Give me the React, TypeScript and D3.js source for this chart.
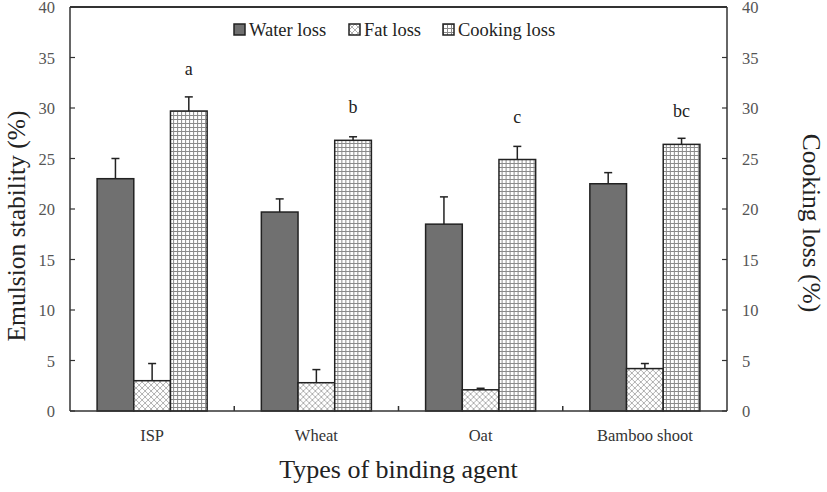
import * as d3 from "d3";

const W = 827;
const H = 492;
const M = { top: 7, right: 100, bottom: 81, left: 70 };

const categories = ["ISP", "Wheat", "Oat", "Bamboo shoot"];
const seriesNames = ["Water loss", "Fat loss", "Cooking loss"];
const waterLoss = [23.0, 19.7, 18.5, 22.5];
const waterErr = [2.0, 1.3, 2.7, 1.1];
const fatLoss = [3.0, 2.8, 2.1, 4.2];
const fatErr = [1.7, 1.3, 0.15, 0.5];
const cookingLoss = [29.7, 26.8, 24.9, 26.4];
const cookingErr = [1.4, 0.35, 1.3, 0.6];
const letters = ["a", "b", "c", "bc"];
const letterPos = [33.3, 29.5, 28.5, 29.1];
const yTicks = [0, 5, 10, 15, 20, 25, 30, 35, 40];

const FONT = "'Liberation Serif', 'Times New Roman', serif";
const fills = ["#707070", "url(#cross)", "url(#grid)"];

export default function App() {
  const innerW = W - M.left - M.right;
  const innerH = H - M.top - M.bottom;
  const x = d3.scaleBand().domain(categories).range([0, innerW]).paddingInner(0.33).paddingOuter(0.165);
  const y = d3.scaleLinear().domain([0, 40]).range([innerH, 0]);
  const sub = d3.scaleBand().domain(seriesNames).range([0, x.bandwidth()]);
  const values = [waterLoss, fatLoss, cookingLoss];
  const errs = [waterErr, fatErr, cookingErr];
  const step = innerW / categories.length;

  return (
    <svg width={W} height={H} style={{ position: "absolute", left: 0, top: 0, background: "#fff" }}>
      <defs>
        <pattern id="cross" width="6" height="6" patternUnits="userSpaceOnUse">
          <rect width="6" height="6" fill="#fff" />
          <path d="M0,0 L6,6 M6,0 L0,6" stroke="#a8a8a8" strokeWidth="0.9" />
        </pattern>
        <pattern id="grid" width="4" height="4" patternUnits="userSpaceOnUse">
          <rect width="4" height="4" fill="#fff" />
          <path d="M0,0.5 H4 M0.5,0 V4" stroke="#8a8a8a" strokeWidth="1" />
        </pattern>
      </defs>
      <g transform={`translate(${M.left},${M.top})`}>
        {/* bars */}
        {categories.map((c, i) => (
          <g key={c} transform={`translate(${x(c)},0)`}>
            {seriesNames.map((s, k) => {
              const v = values[k][i];
              const e = errs[k][i];
              const bx = sub(s)!;
              const cx = bx + sub.bandwidth() / 2;
              return (
                <g key={s}>
                  <line x1={cx} x2={cx} y1={y(v)} y2={y(v + e)} stroke="#222" strokeWidth={1.5} />
                  <line x1={cx - 4} x2={cx + 4} y1={y(v + e)} y2={y(v + e)} stroke="#222" strokeWidth={1.5} />
                  <rect x={bx} y={y(v)} width={sub.bandwidth()} height={innerH - y(v)} fill={fills[k]} stroke="#222" strokeWidth={1.5} />
                </g>
              );
            })}
            <text x={sub("Cooking loss")! + sub.bandwidth() / 2} y={y(letterPos[i])} textAnchor="middle" fontFamily={FONT} fontSize={18} fill="#222">
              {letters[i]}
            </text>
          </g>
        ))}
        {/* frame */}
        <line x1={0} x2={innerW} y1={0} y2={0} stroke="#333" strokeWidth={2} />
        <line x1={0} x2={innerW} y1={innerH} y2={innerH} stroke="#333" strokeWidth={1.5} />
        <line x1={0} x2={0} y1={0} y2={innerH} stroke="#333" strokeWidth={1.5} />
        <line x1={innerW} x2={innerW} y1={0} y2={innerH} stroke="#333" strokeWidth={1.5} />
        {/* category separators */}
        {categories.slice(1).map((c, i) => (
          <line key={c} x1={step * (i + 1)} x2={step * (i + 1)} y1={innerH} y2={innerH - 5} stroke="#333" strokeWidth={1.5} />
        ))}
        {/* y ticks */}
        {yTicks.map((t) => (
          <g key={t}>
            <line x1={0} x2={5} y1={y(t)} y2={y(t)} stroke="#333" strokeWidth={1.2} />
            <line x1={innerW} x2={innerW - 5} y1={y(t)} y2={y(t)} stroke="#333" strokeWidth={1.2} />
            <text x={-15} y={y(t) + 6} textAnchor="end" fontFamily={FONT} fontSize={16.5} fill="#555">{t}</text>
            <text x={innerW + 15} y={y(t) + 6} textAnchor="start" fontFamily={FONT} fontSize={16.5} fill="#555">{t}</text>
          </g>
        ))}
        {/* category labels */}
        {categories.map((c) => (
          <text key={c} x={x(c)! + x.bandwidth() / 2} y={innerH + 30} textAnchor="middle" fontFamily={FONT} fontSize={16.5} fill="#333">{c}</text>
        ))}
        {/* axis titles */}
        <text x={innerW / 2} y={innerH + 67} textAnchor="middle" fontFamily={FONT} fontSize={26} fill="#222">Types of binding agent</text>
        <text transform={`translate(${-45},${innerH / 2 + 17}) rotate(-90)`} textAnchor="middle" fontFamily={FONT} fontSize={25.5} fill="#222">Emulsion stability (%)</text>
        <text transform={`translate(${innerW + 76},${innerH / 2 + 14}) rotate(90)`} textAnchor="middle" fontFamily={FONT} fontSize={25.5} fill="#222">Cooking loss (%)</text>
        {/* legend */}
        {seriesNames.map((s, k) => {
          const lx = [164, 279, 373][k];
          return (
            <g key={s} transform={`translate(${lx},29)`}>
              <rect x={0} y={-12} width={11} height={11} fill={fills[k]} stroke="#222" strokeWidth={1.5} />
              <text x={15} y={0} fontFamily={FONT} fontSize={18.5} fill="#222">{s}</text>
            </g>
          );
        })}
      </g>
    </svg>
  );
}
